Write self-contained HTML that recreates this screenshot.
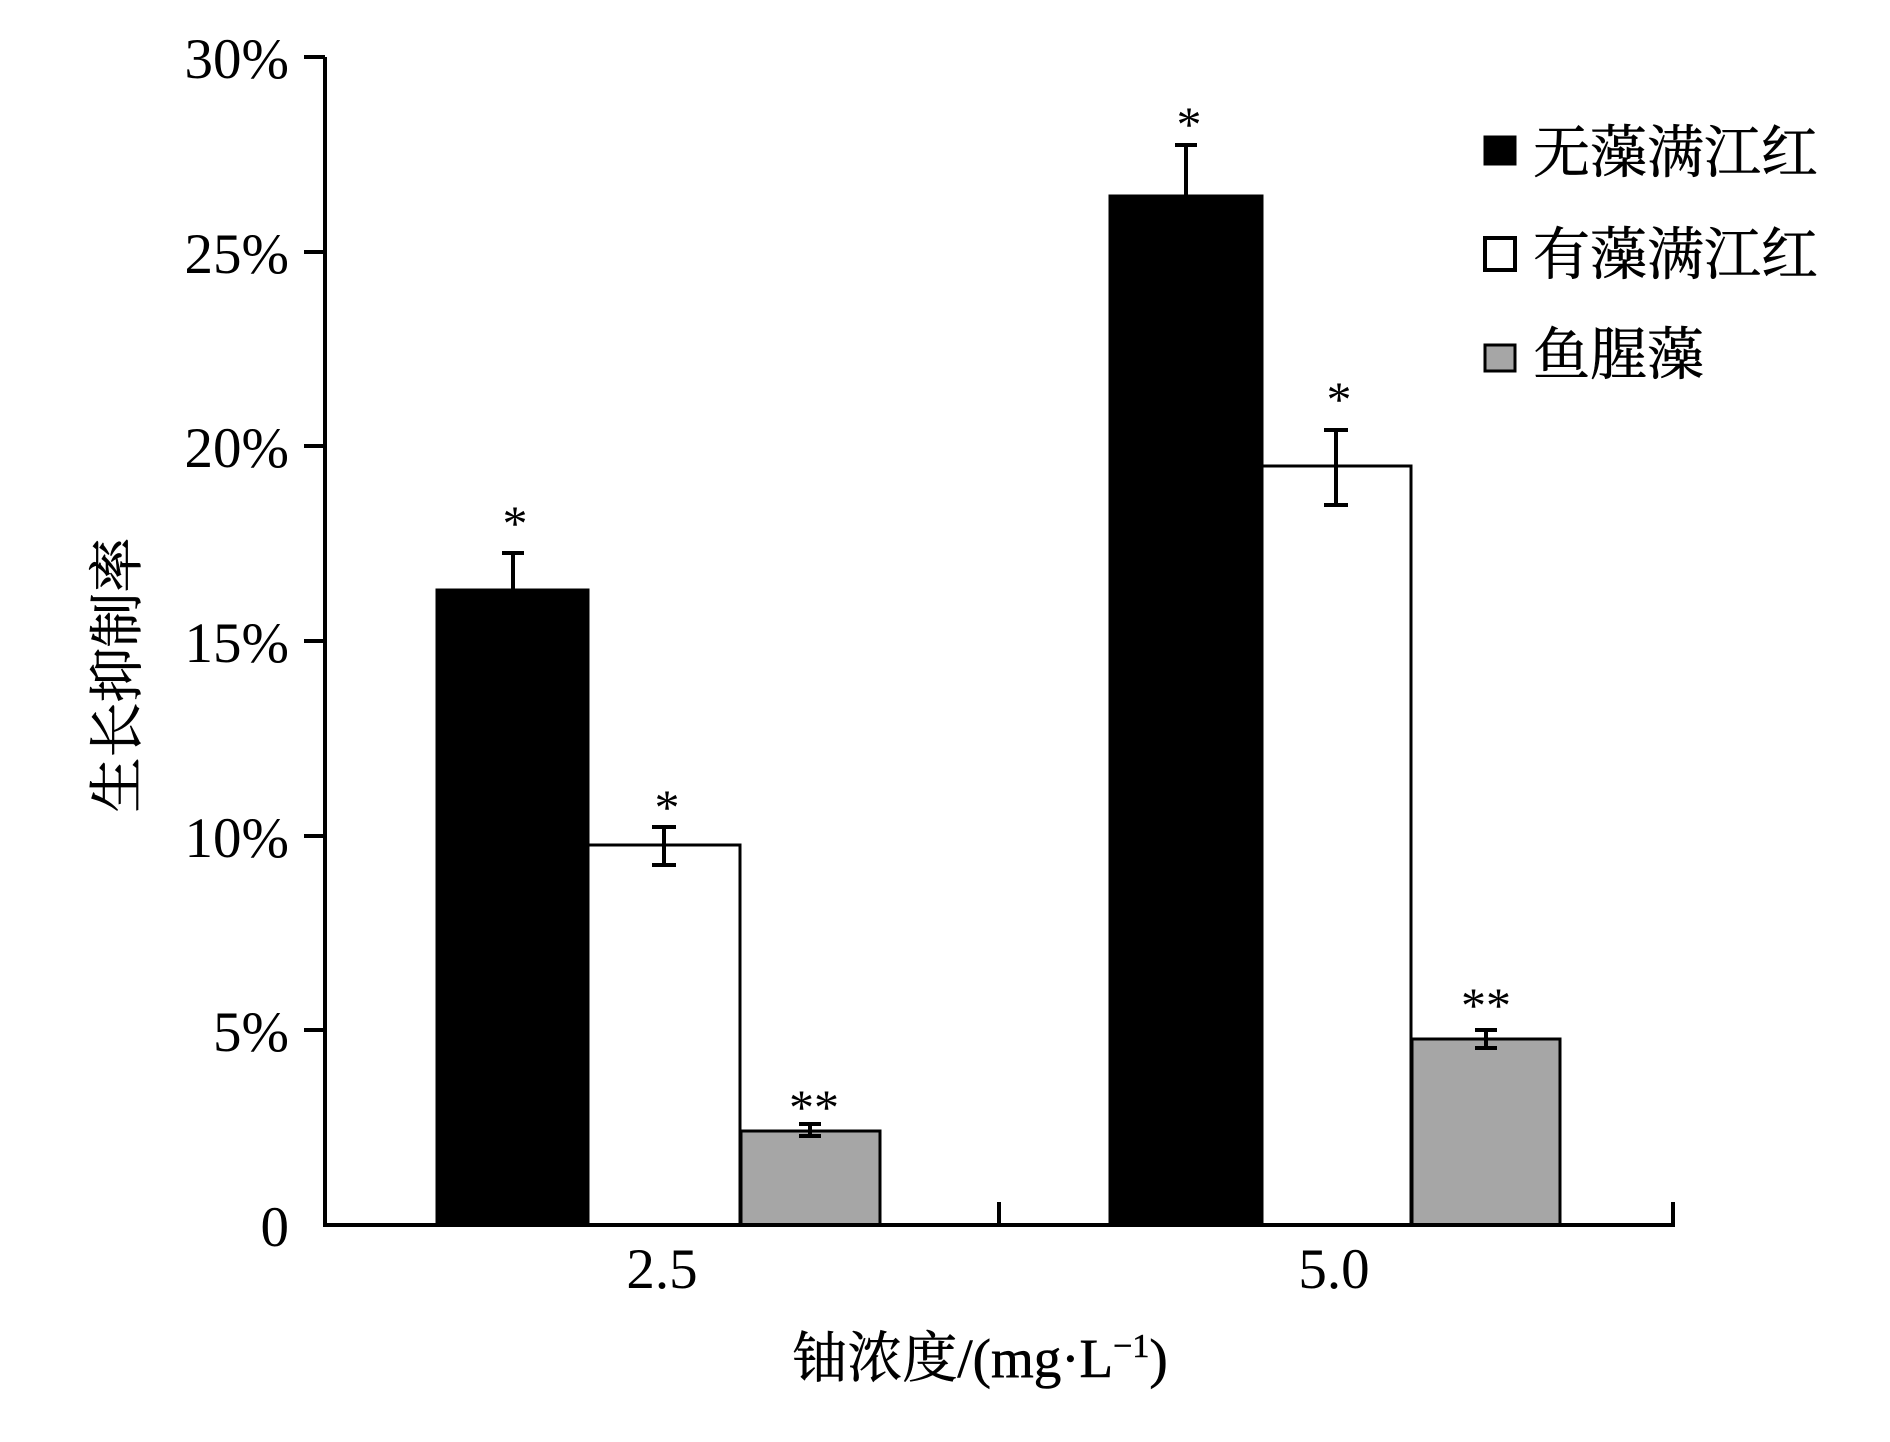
<!DOCTYPE html>
<html><head><meta charset="utf-8"><style>
html,body{margin:0;padding:0;background:#fff;}
svg{display:block;}
.t{font-family:"Liberation Serif",serif;font-size:57px;fill:#000;}
.c{font-family:"Liberation Serif","Noto Serif CJK SC",serif;font-size:55px;fill:#000;stroke:#000;stroke-width:0.6px;}
</style></head><body>
<svg width="1890" height="1442" viewBox="0 0 1890 1442" xmlns="http://www.w3.org/2000/svg">
<rect width="1890" height="1442" fill="#fff"/>
<g stroke="#000" stroke-width="3">
<rect x="437" y="590" width="151" height="635" fill="#000"/>
<rect x="588" y="845" width="152" height="380" fill="#fff"/>
<rect x="741" y="1131" width="139" height="94" fill="#a6a6a6"/>
<rect x="1110" y="196" width="152" height="1029" fill="#000"/>
<rect x="1262" y="466" width="149" height="759" fill="#fff"/>
<rect x="1412" y="1039" width="148" height="186" fill="#a6a6a6"/>
</g>
<g stroke="#000" stroke-width="4" fill="none">
<path d="M513 590V553M502 553H524"/>
<path d="M664 827V865M652 827H676M652 865H676"/>
<path d="M810 1124V1136M799 1124H821M799 1136H821"/>
<path d="M1186 196V145M1175 145H1197"/>
<path d="M1336 430V505M1324 430H1348M1324 505H1348"/>
<path d="M1486 1030V1048M1475 1030H1497M1475 1048H1497"/>
</g>
<g stroke="#000" stroke-width="4" fill="none">
<path d="M325 57V1225H1673V1202"/>
<path d="M999 1225V1202"/>
<path d="M304 57H325M304 252H325M304 446H325M304 641H325M304 836H325M304 1030H325"/>
</g>
<g class="t" text-anchor="end">
<text x="289" y="78">30%</text>
<text x="289" y="273">25%</text>
<text x="289" y="467">20%</text>
<text x="289" y="662">15%</text>
<text x="289" y="857">10%</text>
<text x="289" y="1051">5%</text>
<text x="289" y="1246">0</text>
</g>
<g class="t" text-anchor="middle" style="font-size:50px">
<text x="515" y="540">*</text>
<text x="667" y="824">*</text>
<text x="814" y="1124">**</text>
<text x="1189" y="141">*</text>
<text x="1339" y="416">*</text>
<text x="1486" y="1022">**</text>
</g>
<text class="t" x="662" y="1288" text-anchor="middle">2.5</text>
<text class="t" x="1334" y="1288" text-anchor="middle">5.0</text>
<text class="c" x="980" y="1377" text-anchor="middle">铀浓度/(mg·L<tspan dy="-20" style="font-size:34px">−1</tspan><tspan dy="20">)</tspan></text>
<text class="c" transform="translate(136,675) rotate(-90)" text-anchor="middle">生长抑制率</text>
<rect x="1485" y="137" width="30" height="27" fill="#000" stroke="#000" stroke-width="3"/>
<rect x="1485" y="238" width="30" height="32" fill="#fff" stroke="#000" stroke-width="4"/>
<rect x="1485" y="345" width="30" height="26" fill="#a6a6a6" stroke="#000" stroke-width="3"/>
<text class="c" x="1533" y="172" style="font-size:57px">无藻满江红</text>
<text class="c" x="1533" y="274" style="font-size:57px">有藻满江红</text>
<text class="c" x="1533" y="374" style="font-size:57px">鱼腥藻</text>
</svg>
</body></html>
